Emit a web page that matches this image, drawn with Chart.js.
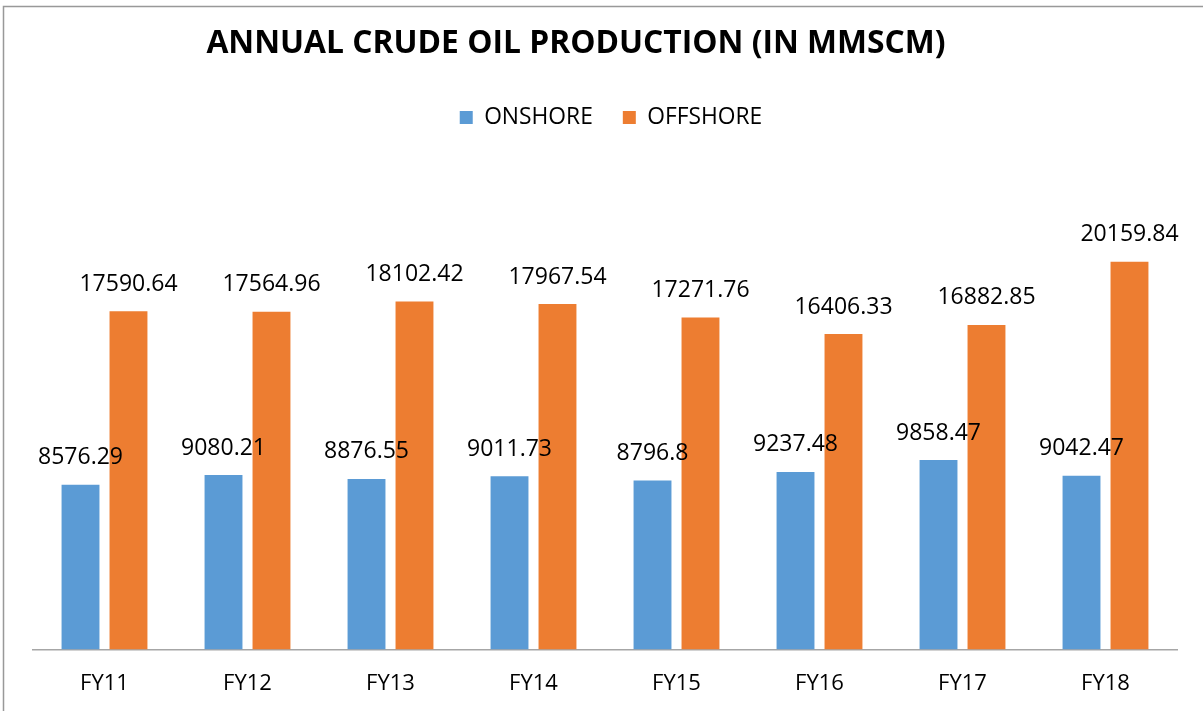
<!DOCTYPE html>
<html>
<head>
<meta charset="utf-8">
<script src="https://cdn.jsdelivr.net/npm/chart.js@4/dist/chart.umd.min.js"></script>
<style>
html,body{margin:0;padding:0;background:#fff;}
#wrap{width:1203px;height:711px;position:relative;}
</style>
</head>
<body>
<div id="wrap"><canvas id="c" width="1203" height="711"></canvas></div>
<script>
const categories = ["FY11","FY12","FY13","FY14","FY15","FY16","FY17","FY18"];
const onshore = [8576.29, 9080.21, 8876.55, 9011.73, 8796.8, 9237.48, 9858.47, 9042.47];
const offshore = [17590.64, 17564.96, 18102.42, 17967.54, 17271.76, 16406.33, 16882.85, 20159.84];
const seriesNames = ["ONSHORE", "OFFSHORE"];
const titleText = "ANNUAL CRUDE OIL PRODUCTION (IN MMSCM)";

const FONT = "'Open Sans', 'DejaVu Sans', sans-serif";

const frame = {
  id: 'frame',
  beforeDraw(chart) {
    const ctx = chart.ctx;
    ctx.save();
    ctx.fillStyle = '#fff';
    ctx.fillRect(0, 0, chart.width, chart.height);
    ctx.strokeStyle = '#999';
    ctx.lineWidth = 1.5;
    ctx.beginPath();
    ctx.moveTo(3.5, chart.height + 5);
    ctx.lineTo(3.5, 6.5);
    ctx.lineTo(chart.width + 5, 6.5);
    ctx.stroke();
    ctx.restore();
  }
};

// shift title / legend horizontally to match the original layout
const blockShift = {
  id: 'blockShift',
  afterLayout(chart) {
    const t = chart.titleBlock;
    if (t) { t.left -= 58; t.width = t.right - t.left; }
    const l = chart.legend;
    if (l) { l.left += 12; l.width = l.right - l.left; }
  }
};

const valueLabels = {
  id: 'valueLabels',
  afterDatasetsDraw(chart) {
    const ctx = chart.ctx;
    ctx.save();
    ctx.font = "23px " + FONT;
    ctx.fillStyle = '#000';
    ctx.textAlign = 'center';
    ctx.textBaseline = 'middle';
    chart.data.datasets.forEach((ds, di) => {
      const meta = chart.getDatasetMeta(di);
      meta.data.forEach((bar, i) => {
        ctx.fillText(String(ds.data[i]), bar.x, bar.y - 27);
      });
    });
    ctx.restore();
  }
};

new Chart(document.getElementById('c'), {
  type: 'bar',
  data: {
    labels: categories,
    datasets: [
      { label: seriesNames[0], data: onshore, backgroundColor: '#5b9bd5',
        categoryPercentage: 0.671, barPercentage: 0.79 },
      { label: seriesNames[1], data: offshore, backgroundColor: '#ed7d31',
        categoryPercentage: 0.671, barPercentage: 0.79 }
    ]
  },
  options: {
    responsive: false,
    animation: false,
    layout: { padding: { left: 33, right: 26, top: 0, bottom: -7 } },
    plugins: {
      title: {
        display: true, text: titleText, color: '#000',
        font: { family: FONT, size: 31.8, weight: 'bold' },
        padding: { top: 25, bottom: 13 }
      },
      legend: {
        display: true, position: 'top',
        labels: {
          color: '#000', boxWidth: 13, boxHeight: 13, padding: 30,
          font: { family: FONT, size: 22.8 }
        }
      },
      tooltip: { enabled: false }
    },
    scales: {
      x: {
        grid: { display: false, drawTicks: false },
        border: { display: true, color: '#a6a6a6', width: 1.5 },
        ticks: { color: '#000', padding: 21, font: { family: FONT, size: 22 } }
      },
      y: {
        display: false, min: 0, max: 26550
      }
    }
  },
  plugins: [frame, blockShift, valueLabels]
});
</script>
</body>
</html>
